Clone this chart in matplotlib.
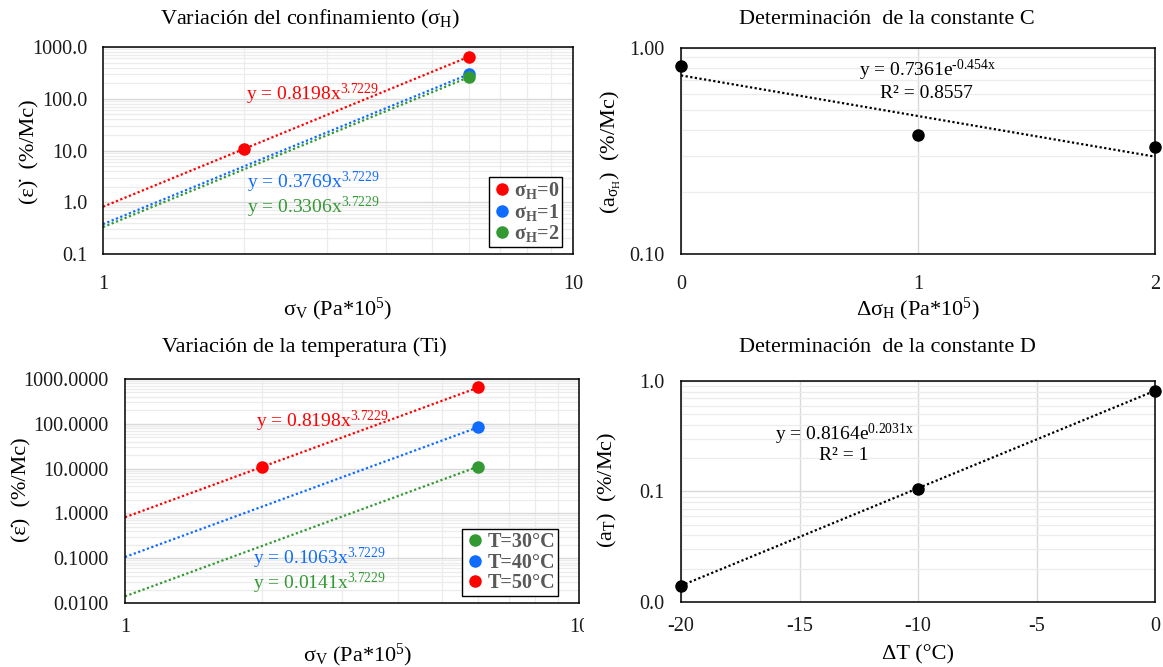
import numpy as np
import matplotlib
matplotlib.use("Agg")
import matplotlib.pyplot as plt
from matplotlib.ticker import LogLocator, NullFormatter, FormatStrFormatter, FixedLocator
from matplotlib.patches import Rectangle

plt.rcParams['font.family'] = ['Liberation Serif', 'DejaVu Serif']
plt.rcParams['mathtext.fontset'] = 'custom'
plt.rcParams['mathtext.rm'] = 'Liberation Serif'
plt.rcParams['mathtext.it'] = 'Liberation Serif:italic'
plt.rcParams['mathtext.bf'] = 'Liberation Serif:bold'

# ---- data -------------------------------------------------------------
sigma_v = [2, 6]                       # vertical stress (Pa*10^5)
rate_sh0 = [10.8, 647.0]               # sigma_H = 0
rate_sh1 = [297.0]                     # sigma_H = 1 (only at sigma_v = 6)
rate_sh2 = [261.0]                     # sigma_H = 2 (only at sigma_v = 6)

rate_t50 = [10.8, 647.0]               # T = 50 C
rate_t40 = [83.9]                      # T = 40 C
rate_t30 = [11.1]                      # T = 30 C

power_exp = 3.7229
coef_sh = [0.8198, 0.3769, 0.3306]     # power-law coefficients, sigma_H = 0,1,2
coef_t = [0.0141, 0.1063, 0.8198]      # power-law coefficients, T = 30,40,50

d_sigma_h = [0, 1, 2]
a_sigma_h = [0.8198, 0.3769, 0.3306]
fit_c = [0.7361, -0.454]               # a*exp(b*x)
r2_c = 0.8557

d_temp = [-20, -10, 0]
a_temp = [0.0141, 0.1063, 0.8198]
fit_d = [0.8164, 0.2031]
r2_d = 1

RED, BLUE, GREEN = '#ff0000', '#0f6cff', '#339933'
TICK_COLOR = '#1a1a1a'
TICK_SIZE = 14.5
LABEL_SIZE = 16
EQ_SIZE = 14
W, H = 1163, 667

fig = plt.figure(figsize=(W / 100, H / 100), dpi=100)


def rect(l, t, r, b):
    return [l / W, 1 - b / H, (r - l) / W, (b - t) / H]


def fpos(x, y):
    return x / W, 1 - y / H


def style_axes(ax, xpad, ypad):
    for s in ax.spines.values():
        s.set_color('black')
        s.set_linewidth(1.1)
    ax.tick_params(which='both', length=0, labelsize=TICK_SIZE, colors=TICK_COLOR)
    ax.tick_params(axis='x', pad=xpad)
    ax.tick_params(axis='y', pad=ypad)
    ax.set_axisbelow(True)


def log_grid(ax, xlog):
    ax.grid(which='major', axis='y', color='#d9d9d9', lw=1.0)
    ax.grid(which='minor', axis='y', color='#ececec', lw=0.9)
    ax.yaxis.set_minor_locator(LogLocator(base=10, subs=np.arange(2, 10)))
    ax.yaxis.set_minor_formatter(NullFormatter())
    if xlog:
        ax.grid(which='minor', axis='x', color='#ececec', lw=0.9)
        ax.xaxis.set_minor_locator(LogLocator(base=10, subs=np.arange(2, 10)))
        ax.xaxis.set_minor_formatter(NullFormatter())
    else:
        ax.grid(which='major', axis='x', color='#d9d9d9', lw=1.0)


def num(v):
    # plain hyphen for negative exponents
    return f"{v:g}".replace('-', '\u2010')


def eq_power(a, b):
    return f"y = {num(a)}x$^{{\\mathrm{{{num(b)}}}}}$"


def eq_exp(a, b):
    return f"y = {num(a)}e$^{{\\mathrm{{{num(b)}x}}}}$"


DOT = dict(ls=(0, (1, 1.1)), lw=1.6)
MK = dict(marker='o', ls='none', ms=8, zorder=5)
LEG = dict(loc='lower right', bbox_transform=fig.transFigure,
           prop=dict(weight='bold', size=14.5), labelcolor='#595959', frameon=True,
           fancybox=False, edgecolor='black', framealpha=1, borderpad=0.15,
           handletextpad=0.1, handlelength=1.0, labelspacing=0.02, borderaxespad=0)

# ---- top-left: confinement variation ---------------------------------
ax1 = fig.add_axes(rect(103, 47, 573, 254))
ax1.set_xscale('log')
ax1.set_yscale('log')
ax1.set_xlim(1, 10)
ax1.set_ylim(0.1, 1000)
style_axes(ax1, 15, 11)
log_grid(ax1, True)
ax1.yaxis.set_major_formatter(FormatStrFormatter('%.1f'))
ax1.xaxis.set_major_formatter(FormatStrFormatter('%d'))
xf = np.linspace(1, max(sigma_v), 200)
for c, col in zip(coef_sh, [RED, BLUE, GREEN]):
    ax1.plot(xf, c * xf ** power_exp, color=col, **DOT)
h0, = ax1.plot(sigma_v, rate_sh0, color=RED, **MK)
h1, = ax1.plot(sigma_v[1:], rate_sh1, color=BLUE, **MK)
h2, = ax1.plot(sigma_v[1:], rate_sh2, color=GREEN, **MK)
ax1.legend([h0, h1, h2], [r'σ$_\mathbf{H}$=0', r'σ$_\mathbf{H}$=1', r'σ$_\mathbf{H}$=2'],
           bbox_to_anchor=fpos(562, 247), **LEG)
ax1.get_legend().get_frame().set_linewidth(1.0)
for c, col, (x, y) in zip(coef_sh, [RED, BLUE, GREEN], [(246, 94), (247, 182), (247, 207)]):
    fig.text(*fpos(x, y), eq_power(c, power_exp), color=col, fontsize=EQ_SIZE, ha='left', va='center')
fig.text(*fpos(310, 19), r'Variación del confinamiento (σ$_\mathrm{H}$)', fontsize=LABEL_SIZE, ha='center', va='center')
fig.text(*fpos(338, 309), r'σ$_\mathrm{V}$ (Pa*10$^5$)', fontsize=LABEL_SIZE, ha='center', va='center')
fig.text(*fpos(30, 152), '(ε)\u0307  (%/Mc)', fontsize=LABEL_SIZE, ha='center', va='center', rotation=90)

# ---- top-right: constant C -------------------------------------------
ax2 = fig.add_axes(rect(681, 48, 1155, 254))
ax2.set_yscale('log')
ax2.set_xlim(0, 2)
ax2.set_ylim(0.1, 1)
style_axes(ax2, 15, 12)
log_grid(ax2, False)
ax2.xaxis.set_major_locator(FixedLocator(d_sigma_h))
ax2.xaxis.set_major_formatter(FormatStrFormatter('%d'))
ax2.yaxis.set_major_formatter(FormatStrFormatter('%.2f'))
xc = np.linspace(min(d_sigma_h), max(d_sigma_h), 200)
ax2.plot(xc, fit_c[0] * np.exp(fit_c[1] * xc), color='black', **DOT)
ax2.plot(d_sigma_h, a_sigma_h, color='black', clip_on=False, **MK)
fig.text(*fpos(927, 70), eq_exp(*fit_c), fontsize=EQ_SIZE, ha='center', va='center')
fig.text(*fpos(926, 93), f"R² = {r2_c:g}", fontsize=EQ_SIZE, ha='center', va='center')
fig.text(*fpos(887, 19), 'Determinación  de la constante C', fontsize=LABEL_SIZE, ha='center', va='center')
fig.text(*fpos(918, 309), r'Δσ$_\mathrm{H}$ (Pa*10$^5$)', fontsize=LABEL_SIZE, ha='center', va='center')
fig.text(*fpos(611, 152), r'(a$_{\mathrm{σ}_\mathrm{H}}$)  (%/Mc)', fontsize=LABEL_SIZE, ha='center', va='center', rotation=90)

# ---- bottom-left: temperature variation ------------------------------
ax3 = fig.add_axes(rect(125, 379, 579, 603))
ax3.set_xscale('log')
ax3.set_yscale('log')
ax3.set_xlim(1, 10)
ax3.set_ylim(0.01, 1000)
style_axes(ax3, 11, 12)
log_grid(ax3, True)
ax3.yaxis.set_major_formatter(FormatStrFormatter('%.4f'))
ax3.xaxis.set_major_formatter(FormatStrFormatter('%d'))
for c, col in zip(coef_t, [GREEN, BLUE, RED]):
    ax3.plot(xf, c * xf ** power_exp, color=col, **DOT)
g30, = ax3.plot(sigma_v[1:], rate_t30, color=GREEN, **MK)
g40, = ax3.plot(sigma_v[1:], rate_t40, color=BLUE, **MK)
g50, = ax3.plot(sigma_v, rate_t50, color=RED, **MK)
ax3.legend([g30, g40, g50], ['T=30°C', 'T=40°C', 'T=50°C'],
           bbox_to_anchor=fpos(558, 596), **LEG)
ax3.get_legend().get_frame().set_linewidth(1.0)
for c, col, (x, y) in zip([coef_t[2], coef_t[1], coef_t[0]], [RED, BLUE, GREEN],
                          [(256, 421), (253, 558), (253, 583)]):
    fig.text(*fpos(x, y), eq_power(c, power_exp), color=col, fontsize=EQ_SIZE, ha='left', va='center')
fig.text(*fpos(304, 347), 'Variación de la temperatura (Ti)', fontsize=LABEL_SIZE, ha='center', va='center')
fig.text(*fpos(358, 655), r'σ$_\mathrm{V}$ (Pa*10$^5$)', fontsize=LABEL_SIZE, ha='center', va='center')
fig.text(*fpos(22, 490), '(ε\u0307)  (%/Mc)', fontsize=LABEL_SIZE, ha='center', va='center', rotation=90)
# the left chart's area ends before the right chart begins
fig.patches.append(Rectangle(fpos(584, 640), 40 / W, 30 / H, transform=fig.transFigure,
                             facecolor='white', edgecolor='none', zorder=10))

# ---- bottom-right: constant D ----------------------------------------
ax4 = fig.add_axes(rect(681, 381, 1155, 602))
ax4.set_yscale('log')
ax4.set_xlim(-20, 0)
ax4.set_ylim(0.01, 1)
style_axes(ax4, 11, 12)
log_grid(ax4, False)
ax4.xaxis.set_major_locator(FixedLocator([-20, -15, -10, -5, 0]))
ax4.xaxis.set_major_formatter(FormatStrFormatter('%d'))
ax4.yaxis.set_major_formatter(FormatStrFormatter('%.1f'))
xd = np.linspace(min(d_temp), max(d_temp), 200)
ax4.plot(xd, fit_d[0] * np.exp(fit_d[1] * xd), color='black', **DOT)
ax4.plot(d_temp, a_temp, color='black', clip_on=False, **MK)
fig.text(*fpos(845, 434), eq_exp(*fit_d), fontsize=EQ_SIZE, ha='center', va='center')
fig.text(*fpos(844, 456), f"R² = {r2_d:g}", fontsize=EQ_SIZE, ha='center', va='center')
fig.text(*fpos(887, 347), 'Determinación  de la constante D', fontsize=LABEL_SIZE, ha='center', va='center')
fig.text(*fpos(918, 655), 'ΔT (°C)', fontsize=LABEL_SIZE, ha='center', va='center')
fig.text(*fpos(607, 490), r'(a$_\mathrm{T}$)  (%/Mc)', fontsize=LABEL_SIZE, ha='center', va='center', rotation=90)

fig.savefig('out.png', dpi=100, facecolor='white')
